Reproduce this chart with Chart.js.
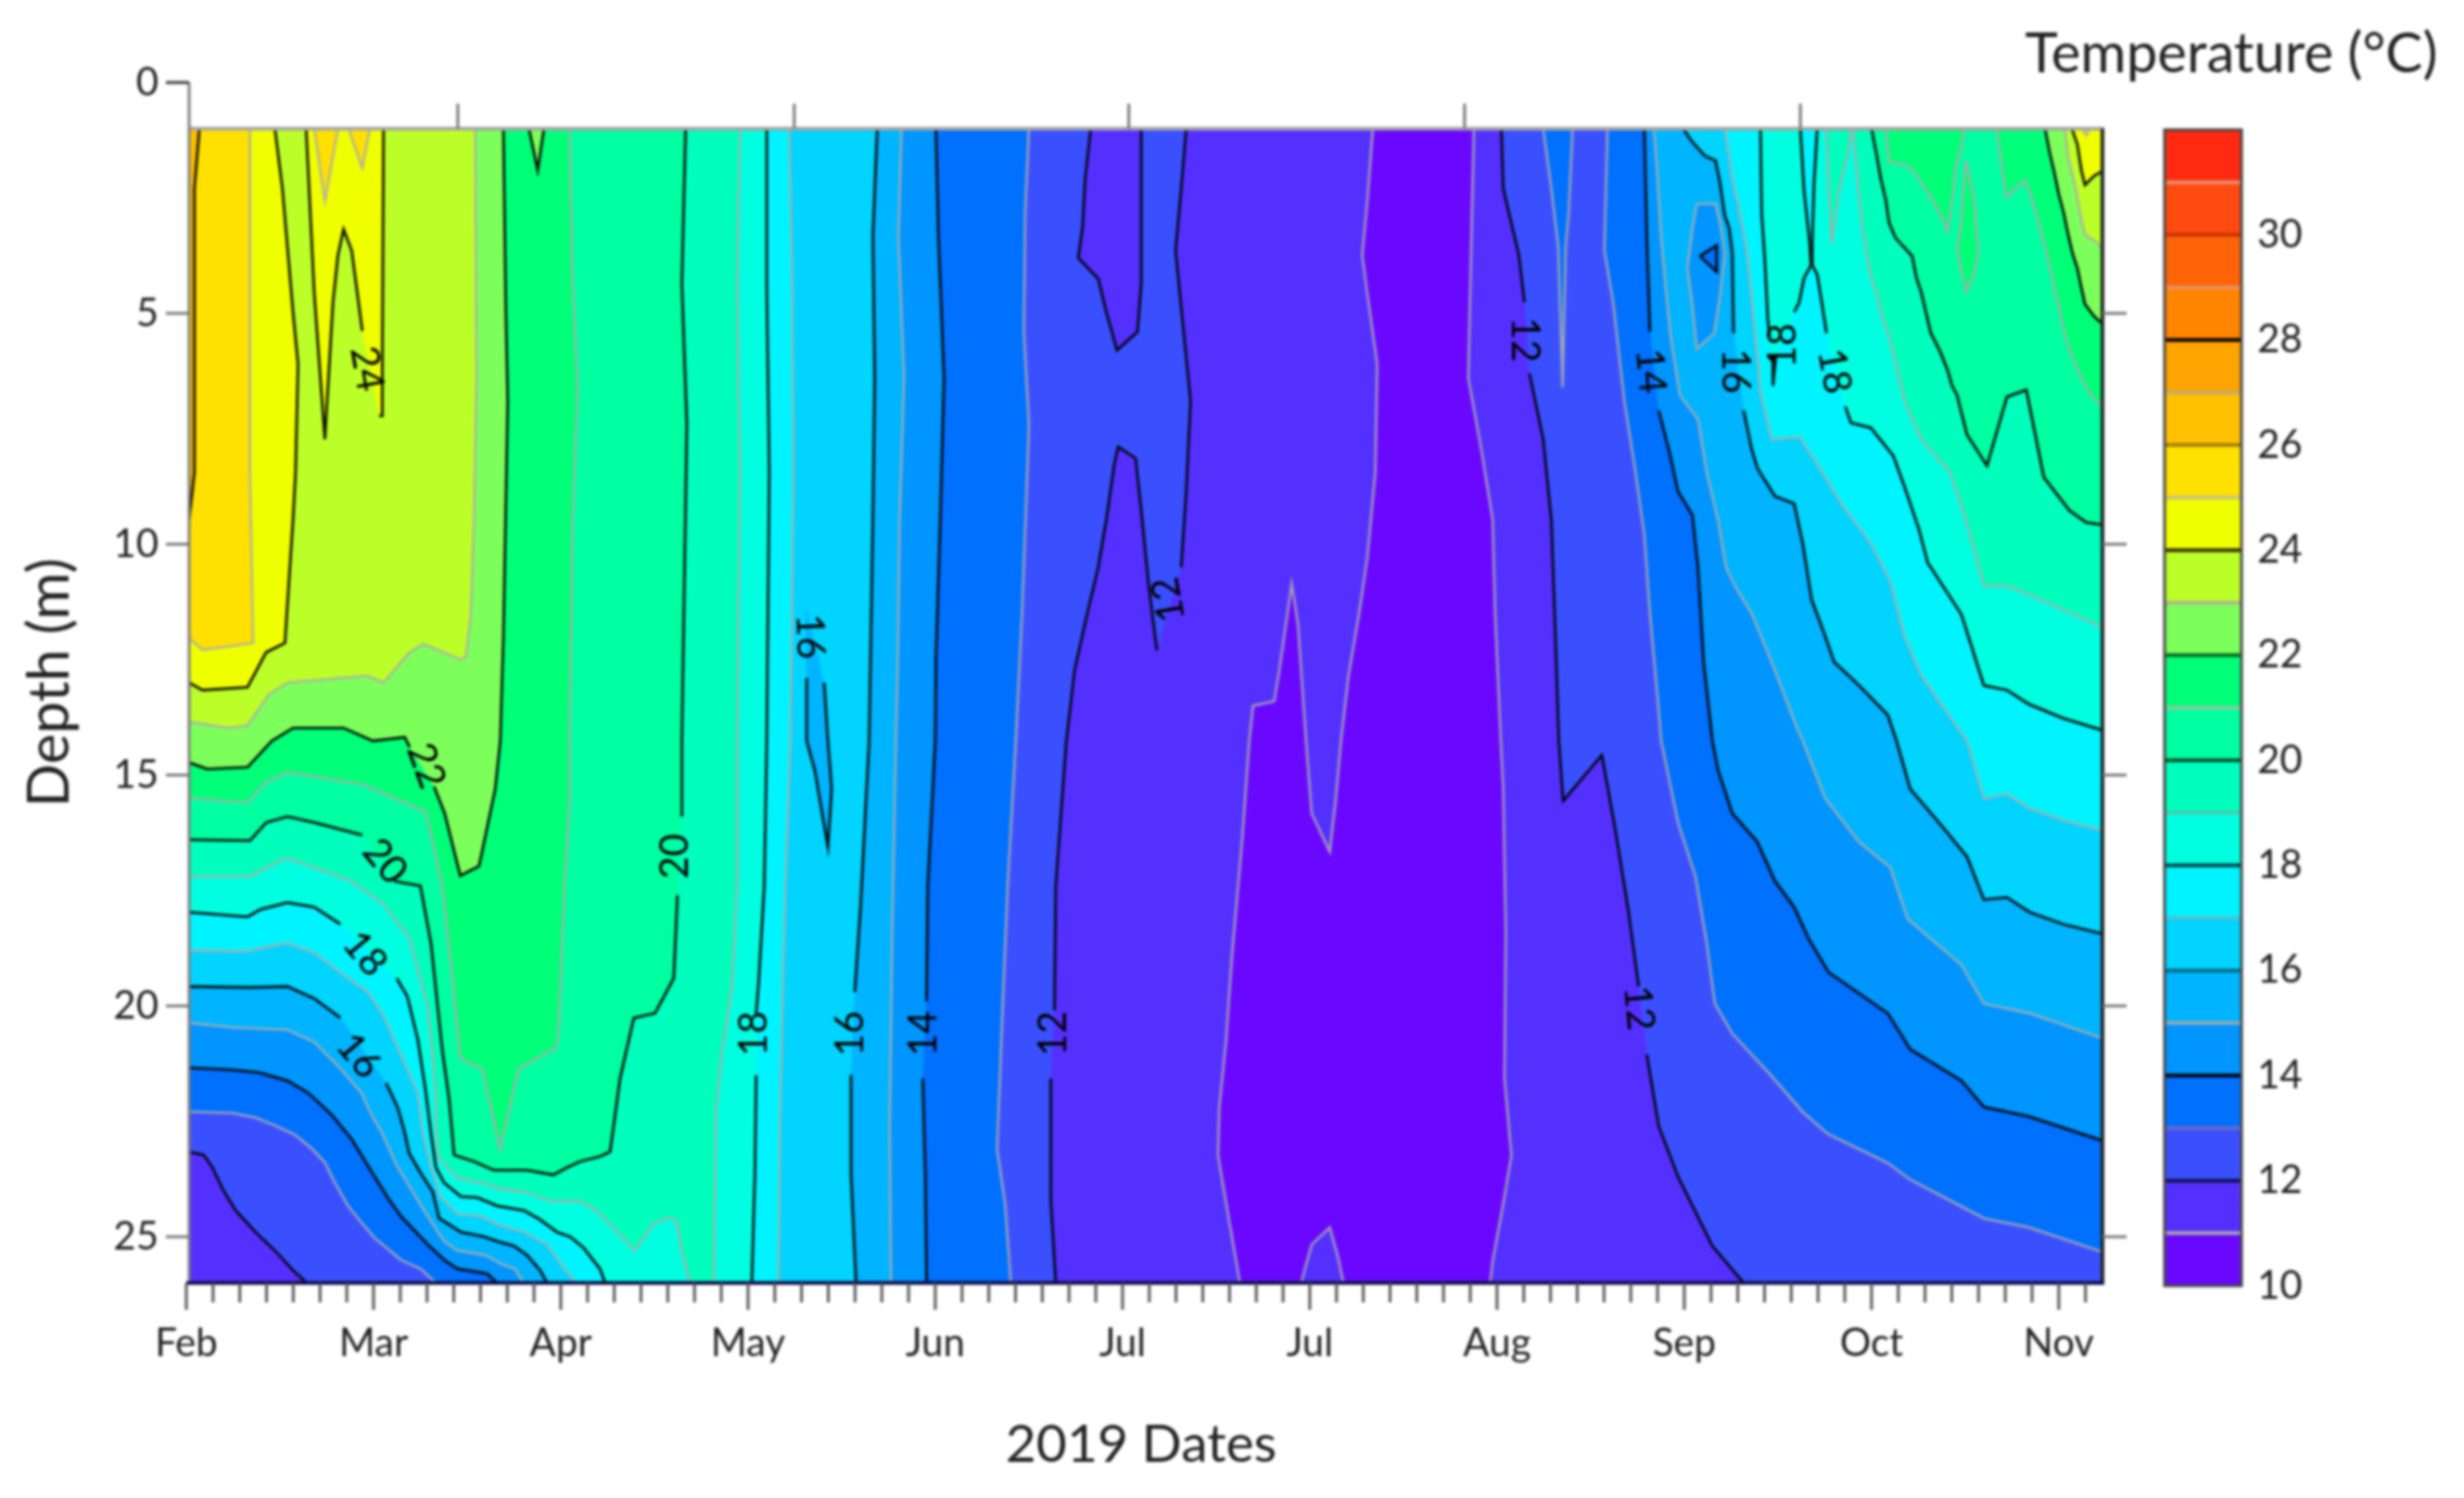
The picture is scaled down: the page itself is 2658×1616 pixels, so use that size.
<!DOCTYPE html>
<html><head><meta charset="utf-8">
<script src="https://cdn.jsdelivr.net/npm/chart.js@4"></script>
<style>
html,body{margin:0;padding:0;background:#fff;width:2658px;height:1616px;overflow:hidden}
canvas{position:absolute;top:0;filter:blur(1.4px)}
#main{left:0}#bar{left:2300px}
</style></head><body>
<canvas id="main" width="2658" height="1616" style="width:2658px;height:1616px"></canvas>
<canvas id="bar" width="358" height="1616" style="width:358px;height:1616px"></canvas>
<script>
// ---- axis data (x = days after 1 Feb 2019, y = depth in m)
const monthLabels=["Feb","Mar","Apr","May","Jun","Jul","Jul","Aug","Sep","Oct","Nov"];
const monthTicks=[0,30,60,90,120,150,180,210,240,270,300];
const topTicks=[43.5,97.4,151,204.8,258.6];
const depthTicks=[0,5,10,15,20,25];
const rightTicks=[5,10,15,20,25];
const legendTicks=[10,12,14,16,18,20,22,24,26,28,30];
const bandColors=["#6A08FF","#5430FF","#3A50FF","#0070FF","#0095FF","#00B4FF","#00D4FF","#00F4FF","#00FFE0","#00FFBC","#00FFA0","#00FF78","#7CFF5A","#BCFF28","#F0FF00","#FFE000","#FFC000","#FFA400","#FF8400","#FF6408","#FF4A10","#FF2A10"];
// ---- isotherms: [day, depth]; null = gap for a label
const c11L=[[190.1,1],[189.2,2.6],[188.4,3.74],[189.2,4.56],[190.8,6.1],[190.5,8.45],[189.2,10.3],[187.9,11.5],[186.2,12.85],[185,14.26],[184.1,15.6],[183.2,16.66],[180.3,15.83],[179.4,14.26],[178.1,11.73],[177.1,10.86],[175.1,12.75],[174.3,13.4],[170.9,13.5],[170.3,14.26],[169.2,16.35],[167.5,18.96],[166.6,20.73],[165.5,22.2],[165.3,23.24],[166.6,24.28],[168.8,26]];
const c11B=[[178.6,26],[180.3,25.17],[183.2,24.8],[184.5,25.43],[185.4,26]];
const c11R=[[206.3,1],[205.9,3.33],[205.4,6.4],[207.6,8.04],[209.3,9.47],[209.7,11.52],[210.6,14.26],[211,15.3],[211.4,18.4],[211.2,21.57],[212.3,23.24],[211,24.28],[209.3,25.53],[208.9,26]];
const c12L=[[160.2,1],[159.4,2.3],[158.5,3.64],[159.4,4.87],[160.9,6.9],[160.2,8.86],[159.4,10.5],null,[155.5,12.3],[154.2,10.9],[153,9.27],[152.1,8.14],[149.3,7.89],[148.7,8.25],[147.4,9.47],[146.1,10.5],[144,11.7],[142.3,12.75],[141,14.26],[139.3,17.4],[139.1,20.1],null,[138.5,21.57],[138.5,24.2],[139.3,26],[19.3,26],[16.9,25.7],[14.2,25.3],[11.1,24.9],[7.9,24.43],[5.8,23.96],[4.2,23.5],[2.8,23.23],[0.45,23.16]];
const c12Top=[[144.9,1],[144,2.1],[143.6,3.13],[142.9,3.8],[146.1,4.25],[147.4,4.97],[149.1,5.8],[152.4,5.4],[153,4.36],[153,1]];
const c12R=[[210.7,1],[211,2.3],[213.5,3.74],[214.4,4.76],null,[215.2,6.3],[217.4,7.73],[218.7,9.47],[219.5,12.55],[219.9,14.26],[220.6,15.56],[226.8,14.57],[228.9,16.14],[231,17.9],[232.7,19.58],null,[234,21.05],[235.9,22.6],[239,23.7],[244.5,25.2],[249.5,26]];
const c13L=[[135,1],[134.4,2.84],[134.2,5.4],[135,7.4],[134.6,8.96],[133.9,11.5],[132.9,14.26],[131.6,17.4],[130.8,20],[129.9,23.1],[131.2,24.3],[132.1,26],[40,26],[37.6,25.7],[34.4,25.5],[30.2,25.03],[28.1,24.7],[25.9,24.33],[23.8,23.83],[22.2,23.39],[20.1,23.09],[17.4,22.79],[14.2,22.59],[11.1,22.42],[7.4,22.32],[0.45,22.29]];
const c13Top=[[217.4,1],[218.7,2.3],[219.8,3.54],[220.5,6.6],[221,3.54],[221.5,2.8],[222.1,1]];
const c13R=[[227.7,1],[227.2,3.64],[228.6,4.76],[230.4,6.9],[232.2,8.45],[233.6,9.8],[234.5,11.5],[235.9,13.6],[236.3,14.26],[239,16.03],[241.8,17.2],[243.6,18.64],[244.9,19.95],[247.7,20.6],[253.6,21.46],[259,22.3],[263,22.77],[272.6,23.4],[276.2,23.76],[288,24.6],[295.3,24.8],[307,25.33]];
const c14L=[[120.1,1],[120.5,3.33],[121.4,6.4],[120.8,9.47],[120.1,12.5],[120,14.26],[118.8,17.4],[118.6,19.9],null,[118,21.57],[118.4,23.65],[118.6,26],[49.8,26],[48.2,25.8],[43.4,25.69],[41.3,25.5],[38.7,25.17],[34.4,24.56],[32.3,24.16],[29.4,23.53],[26.5,22.89],[23.3,22.36],[19.6,21.89],[16.2,21.62],[11.5,21.44],[6.8,21.38],[0.45,21.34]];
const c14R=[[233.6,1],[234,3.33],[234.5,5.4],null,[235.9,7.1],[237.7,8.05],[239,8.86],[241.3,9.37],[242.2,10.5],[243.1,12.55],[244.5,14.26],[245.4,14.89],[247.7,15.83],[251.7,16.45],[254.5,17.29],[257.6,17.86],[259.9,18.54],[263.1,19.27],[272.6,20.16],[276.2,20.94],[284.4,21.62],[288,22.19],[295.3,22.4],[307,22.92]];
const c14Tri=[[242.5,3.76],[245.2,3.53],[245.2,4.1],[242.5,3.76]];
const c15L=[[114.6,1],[114.1,3.33],[115,6.4],[114.3,9.47],[114,12.5],[113.7,14.26],[113.1,18.4],[112.7,22.6],[112.9,26],[54,26],[52.7,25.7],[50.6,25.6],[47.9,25.4],[43.4,25.3],[41.3,25.1],[38.7,24.56],[35.7,23.9],[33.6,23.43],[31.5,22.79],[29.4,22.29],[28.1,21.89],[24.7,21.36],[20.5,20.78],[16.2,20.52],[7.7,20.47],[0.45,20.37]];
const c15R=[[235.1,1],[235.6,1.82],[236.3,3.36],[237.1,4.56],[237.8,5.5],[238.6,6.17],[239.3,6.77],[242.2,7.3],[243.6,8.45],[245.4,9.47],[246.7,10.5],[248.1,10.9],[250.8,11.5],[254,12.55],[258.1,14],[259,14.26],[262.6,15.51],[268,16.45],[273,17],[275.8,18.12],[284.4,19.11],[288,19.95],[295.3,20.16],[307,20.7]];
const c15Oval=[[242,2.63],[241.3,3.16],[240.5,4.03],[241.3,4.83],[242,5.77],[244.8,5.43],[245.7,4.63],[246.5,3.7],[245.7,3.03],[245,2.63],[242,2.63]];
const c16L=[[110.7,1],[110,3.33],[110.3,6.4],[110,9.47],[109.4,14.26],[108.6,16.35],[108,17.9],[107.1,19.7],null,[106.5,21.5],[106.5,23.65],[107.3,26],[57.8,26],[56.7,25.73],[54.6,25.4],[52.5,25.2],[49.8,25.1],[47.7,25],[44,24.9],[42.4,24.76],[40.5,24.6],[39.5,24.03],[37.6,23.63],[35.7,23.19],[34.9,22.69],[33.9,22.22],[32.8,21.89],[32,21.67],null,[24.7,20.26],[20.5,19.84],[16.2,19.58],[10.2,19.6],[0.45,19.58]];
const c16Lens=[[99.2,11.33],null,[99.4,12.9],[99.4,14.26],[100.7,14.9],[102.8,16.56],[103.4,15.3],[102.8,14.26],[102.2,13],null,[99.2,11.33]];
const c16R=[[239.8,1],[241.3,1.29],[243.3,1.59],[245,1.69],[245.7,2.16],[246.5,2.89],[247.2,3.16],[247.7,3.7],[247.9,5.43],null,[249.5,7.1],[250.8,7.94],[251.7,8.35],[254.5,8.96],[257.6,9.12],[259,10],[260.4,11.2],[262.6,12],[264,12.55],[268,13.06],[272.6,13.7],[274,14.26],[276.2,15.3],[280.8,16.03],[285.3,16.77],[288,17.7],[291.7,17.65],[295.3,17.97],[300.7,18.23],[307,18.44]];
const c17L=[[96.6,1],[97.1,4.4],[97.3,8.45],[96.8,14.26],[96,17.4],[95.6,19.5],[95.1,22.6],[94.9,26],[62.5,26],[60.4,25.67],[57.8,25.17],[54.1,24.9],[49.8,24.73],[47.2,24.56],[43.5,24.51],[40.8,24.16],[39.2,23.5],[37.9,22.76],[37.1,21.89],[35,21.25],[31.6,20.21],[29,19.69],[25.6,19.37],[20.5,18.85],[16.2,18.64],[11.9,18.75],[9.8,18.82],[0.45,18.8]];
const c17R=[[246.5,1],[247.7,2.09],[248.7,2.69],[250,3.63],[250.7,4.56],[251.4,5.5],[252.2,6.7],[254,7.73],[258.5,7.68],[261.7,8.35],[265.4,9.17],[269.9,9.98],[273,10.8],[275.3,12],[278,12.85],[285.3,14.26],[288,15.51],[291.7,15.41],[295.3,15.72],[300.7,15.98],[307,16.2]];
const c18L=[[93,1],[93,4.4],[93.4,8.45],[93,14.26],[92.6,17.4],[91.7,19.5],[91.3,20.16],null,[91.3,21.5],[91.1,23.65],[90.6,26],[67.1,26],[66.3,25.7],[63.6,25.23],[61.5,25],[59.4,24.9],[56.7,24.63],[54.1,24.43],[49.8,24.33],[46.6,24.15],[44,24.13],[41.3,23.83],[40,23.5],[39.2,22.76],[38.4,21.89],[37.1,20.73],[35.4,19.79],[33.7,19.4],null,[24.7,18.23],[20.5,17.86],[16.2,17.76],[11.9,17.91],[9.8,18.07],[0.45,17.97]];
const c18Top=[[252.2,1],[252.4,2.83],[252.9,3.83],[253.4,5.17],[253.7,5.5],null,[254.2,5.9],[254.2,6.57],[254.7,5.9],null,[257.6,4.97],[258.4,4.77],[259.2,4.23],[260.3,3.96],[260.1,3.49],[259.2,2.36],[258.6,1]];
const c18R=[[261.3,1],[260.8,2.16],[260.5,3.49],[260.5,3.96],[261.3,4.16],[262.1,4.83],[262.8,5.43],null,[265.8,7.02],[266.7,7.37],[269.9,7.48],[273.5,8.09],[275.3,8.76],[277.6,9.68],[279,10.4],[284.4,11.52],[288,13.06],[291.7,13.16],[295.3,13.47],[300.7,13.77],[307,14.03]];
const c19L=[[88.7,1],[88.3,4.4],[88.7,8.45],[88.3,14.26],[88.3,17.2],[87.5,19.5],[85.8,21.05],[84.9,22.2],[84.5,26],[80.6,26],[80.1,25.7],[79.3,25.23],[78.5,24.63],[76.9,24.6],[74.8,24.73],[71.8,25.3],[70,25.03],[65.7,24.43],[63.1,24.23],[58.3,24.23],[57.2,24.16],[54.1,24.03],[49.8,23.95],[48.2,23.86],[43.5,23.73],[41.3,23.43],[40.3,23.26],[40,22.56],[40,21.89],[38.8,20.1],[37.5,19.4],[35.8,18.54],[31.6,17.8],[26.5,17.3],[20.5,17],[16.2,16.8],[12.8,17],[10.2,17.2],[0.45,17.2]];
const c19Top=[[262.8,1],[263.1,2.16],[263.6,3.49],[264.8,2.36],[266.3,1.49],[266.8,1]];
const c19R=[[267,1],[267.8,2.16],[268.5,3.16],[269.8,4.16],[270.8,4.56],[271.5,4.97],[273,5.6],[275.3,6.91],[278,7.73],[282.6,8.45],[284.4,9.17],[286.2,9.99],[288,10.9],[291.7,10.9],[297.1,11.2],[307,11.8]];
const c20L=[[80,1],[79.4,4.36],[80.2,7.4],[79.4,14.26],[79.4,15.9],null,[78.7,17.6],[78.1,19.4],[75.1,20.16],[71.7,20.26],[69.5,21.57],[67.9,23.16],[66.3,23.26],[63.1,23.37],[61,23.5],[58.8,23.66],[54.6,23.56],[49.3,23.56],[46.1,23.37],[42.9,23.23],[42.6,22.76],[42.1,22.02],[41,20.94],[39.2,18.64],[37.5,17.4],[33.3,17.3],null,[28.2,16.3],[20.5,16.03],[16.2,15.9],[12.8,16.03],[10.2,16.42],[0.45,16.4]];
const c20R=[[270,1],[270.8,1.56],[271.5,2.09],[272.3,2.56],[272.8,3.03],[273.8,3.36],[276.5,3.76],[277.2,4.23],[278,4.56],[278.7,4.97],[279.5,5.43],[281,5.83],[282.2,6.24],[282.9,6.57],[283.7,6.77],[285.3,7.63],[288.5,8.3],[291.7,6.81],[294.8,6.66],[297.6,8.55],[301.7,9.27],[304.4,9.53],[307,9.58]];
const c21L=[[61.4,1],[61.9,4.36],[62.7,6.6],[61.9,9.5],[61.4,14.26],[61.4,15.6],[60.6,17.4],[59.7,20.4],[59.3,20.9],[53.3,21.36],[52.5,21.8],[50.3,23.1],[47.4,21.36],[43.9,21.15],[42.7,19.5],[41,17.4],[38.4,15.8],[36.7,15.7],[28.2,15.2],[16.2,14.94],[12.8,15.15],[9.8,15.6],[0.45,15.5]];
const c21Top=[[272.3,1],[272.8,1.72],[275.7,1.79],[276.7,1.92],[278.7,2.32],[281,2.83],[282.2,3.23],[283,2.49],[283.4,1.89],[284.2,1.49],[284.9,1]];
const c21Mid=[[285.1,1.69],[284.3,3.09],[283.7,3.63],[284.4,4.1],[285.2,4.53],[286.4,4.16],[287.1,3.7],[286.4,2.49],[285.1,1.69]];
const c21R=[[290.1,1],[290.7,1.69],[291.6,2.49],[293.3,2.26],[294.6,2.12],[295.6,2.49],[296.6,2.96],[297.8,3.56],[298.5,3.96],[299.5,4.56],[300.8,5.37],[302,5.9],[303.5,6.37],[305,6.74],[307,7.05]];
const c22L=[[50.8,1],[51.2,4.97],[51.5,6.9],[50.8,12.03],[50.3,14.26],[49.5,15.3],[46.9,16.97],[43.9,17.18],[41.4,15.83],[39.7,15.25],null,[35.8,14.4],[35,14.18],[29.9,14.26],[25.2,13.98],[17.1,13.98],[13.7,14.26],[9.8,14.83],[3.4,14.87],[0.45,14.73]];
const c22Top=[[54.9,1],[56.3,1.9],[57.3,1]];
const c22R=[[297.8,1],[298.5,1.49],[299.3,1.96],[300,2.42],[300.8,2.83],[301.5,3.29],[302.2,3.7],[303,4.03],[303.6,4.43],[304.2,4.8],[305.7,5.07],[307,5.23]];
const c23L=[[46.3,1],[46.5,6.4],[46.1,9.47],[45.6,11.52],[44.8,12.44],[43.9,12.5],[38,12.16],[35.8,12.34],[31.6,13],[29,12.85],[24.7,12.9],[16.2,13],[13.2,13.26],[9.8,13.93],[6.8,13.98],[0.45,13.85]];
const c23R=[[301,1],[301.5,1.62],[302.7,2.29],[303.6,2.96],[304.2,3.29],[306,3.46],[307,3.6]];
const c24L=[[14.2,1],[15.4,2.3],[17.1,4.97],[17.9,6.1],[17.5,8.45],[17.1,9.47],[15.8,12.14],[12.8,12.34],[9.8,13.1],[2.6,13.16],[0.45,13]];
const c24Top=[[19.2,1],[20.5,4.56],[22.2,7.73],[23.5,4.76],[24.3,3.74],[25.2,3.18],[26.5,3.64],[28.2,5.38],null,[30.9,7.22],[31.4,7.22],[31.4,6.4],[31.6,1]];
const c24R=[[302.1,1],[303,1.35],[303.6,1.89],[304.2,2.22],[305.7,2.02],[307,1.92]];
const c25L=[[10.2,1],[10.2,8.45],[10.7,12.14],[2.6,12.29],[0.45,12.03]];
const c25TopA=[[20.5,1],[22.2,2.57],[24.3,1]];
const c25TopB=[[26,1],[28.2,1.85],[29.4,1]];
const c25R=[[303.7,1],[304.4,1.15],[305,1]];
const c26L=[[2.1,1],[1.3,2.3],[1.3,8.45],[0.45,9.47]];
// ---- contour labels
const labelText=["24","22","20","18","16","20","18","16","14","12","16","12","12","14","16","18","18","12"];
const labelDay=[28.9,38.4,31.8,28.6,27.6,78.4,91,106.4,118.2,138.9,99.9,157.4,214.4,234.6,248.1,255.8,264,232.7];
const labelDepth=[6.2,14.8,16.87,18.87,21.08,16.76,20.6,20.6,20.6,20.6,12,11.2,5.57,6.25,6.25,5.7,6.25,20.05];
const labelAngle=[80,70,50,50,50,-90,-90,-90,-90,-90,88,-100,90,85,90,-90,80,85];

// ---- layers: level, outline, extra closing corners, band colour index
const TL=[0.45,1],BL=[0.45,26],TR=[307,1],BR=[307,26];
const layers=[
 [11,c11L,[BL,TL]],[11,c11B,[]],[11,c11R,[BR,TR]],
 [12,c12L,[TL]],[12,c12R,[BR,TR]],[12,c12Top,[],11],
 [13,c13L,[TL]],[13,c13Top,[]],[13,c13R,[TR]],
 [14,c14L,[TL]],[14,c14R,[TR]],
 [15,c15L,[TL]],[15,c15R,[TR]],[15,c15Oval,[],14],[14,c14Tri,[],13],
 [16,c16L,[TL]],[16,c16R,[TR]],[16,c16Lens,[],15],
 [17,c17L,[TL]],[17,c17R,[TR]],
 [18,c18L,[TL]],[18,c18Top,[]],[18,c18R,[TR]],
 [19,c19L,[TL]],[19,c19Top,[]],[19,c19R,[TR]],
 [20,c20L,[TL]],[20,c20R,[TR]],
 [21,c21L,[TL]],[21,c21Top,[]],[21,c21Mid,[]],[21,c21R,[TR]],
 [22,c22L,[TL]],[22,c22Top,[]],[22,c22R,[TR]],
 [23,c23L,[TL]],[23,c23R,[TR]],
 [24,c24L,[TL]],[24,c24Top,[]],[24,c24R,[TR]],
 [25,c25L,[TL]],[25,c25TopA,[]],[25,c25TopB,[]],[25,c25R,[]],
 [26,c26L,[TL]]
];
const xy=p=>p?{x:p[0],y:p[1]}:{x:NaN,y:NaN};
const sets=[{data:[TL,TR,BR,BL].map(xy),showLine:true,fill:'shape',backgroundColor:bandColors[0],borderWidth:0,pointRadius:0}];
for(const [lvl,pts,close,band] of layers){
  sets.push({data:pts.filter(Boolean).concat(close).map(xy),showLine:true,fill:'shape',
    backgroundColor:bandColors[(band===undefined?lvl:band)-10],borderWidth:0,pointRadius:0});
}
for(const [lvl,pts] of layers){
  sets.push({data:pts.map(xy),showLine:true,fill:false,spanGaps:false,borderColor:lvl%2?'rgba(172,172,172,0.9)':'rgba(0,0,0,0.95)',borderWidth:lvl%2?2.6:2.8,pointRadius:0,tension:0});
}
sets.reverse();

const frame={id:'frame',afterDatasetsDraw(c){
  const g=c.ctx,X=c.scales.x,Y=c.scales.y;
  const px=v=>X.getPixelForValue(v),py=v=>Y.getPixelForValue(v);
  const L=(a,b,e,f,col,w)=>{g.strokeStyle=col;g.lineWidth=w;g.beginPath();g.moveTo(a,b);g.lineTo(e,f);g.stroke();};
  g.save();
  // contour labels
  g.fillStyle='#000';g.font='42px Lato';g.textAlign='center';g.textBaseline='middle';
  labelText.forEach((t,i)=>{g.save();g.translate(px(labelDay[i]),py(labelDepth[i]));g.rotate(labelAngle[i]*Math.PI/180);g.fillText(t,0,0);g.restore();});
  // frame
  const l=px(0.45),r=px(307),b=py(26),t=py(1),t0=py(0);
  L(l,t,r+2,t,'#a6a6a6',4);
  L(l,t0,l,b,'#7d7d7d',3);
  L(r,t,r,b,'#222',4);
  L(px(0),b,r+2,b,'#10104a',4);
  // ticks
  depthTicks.forEach(v=>L(l-25,py(v),l,py(v),v===0?'#333':'#777',3));
  rightTicks.forEach(v=>L(r,py(v),r+26,py(v),'#777',3));
  topTicks.forEach(v=>L(px(v),t-27,px(v),t,'#777',3));
  monthTicks.forEach((m,i)=>{
    L(px(m),b,px(m),b+29,'#555',3);
    for(let k=1;k<7;k++){const d=m+k*30/7; if(d<307) L(px(d),b,px(d),b+21,'#555',3);}
  });
  // captions
  g.fillStyle='#222';g.textAlign='center';g.textBaseline='middle';
  g.font='60px Lato';g.fillText('Temperature (°C)',2407,59);
  g.font='57px Lato';g.fillText('2019 Dates',1231,1559);
  g.restore();
}};

new Chart(document.getElementById('main'),{type:'scatter',data:{datasets:sets},plugins:[frame],
 options:{responsive:false,animation:false,events:[],devicePixelRatio:1,
  layout:{autoPadding:false,padding:{top:89,right:390,left:0,bottom:0}},
  plugins:{legend:{display:false},tooltip:{enabled:false}},
  scales:{
   x:{type:'linear',min:0.45,max:307,grid:{display:false},border:{display:false},
      afterBuildTicks:s=>{s.ticks=monthTicks.map(v=>({value:v}));},
      afterFit:s=>{s.height=232;},
      ticks:{autoSkip:false,maxRotation:0,minRotation:0,padding:32,color:'#222',font:{family:'Lato',size:42},
             callback:(v)=>monthLabels[monthTicks.indexOf(v)]}},
   y:{type:'linear',reverse:true,min:0,max:26,grid:{display:false},border:{display:false},
      afterBuildTicks:s=>{s.ticks=depthTicks.map(v=>({value:v}));},
      afterFit:s=>{s.width=204;},
      ticks:{autoSkip:false,padding:25,color:'#222',font:{family:'Lato',size:42}},
      title:{display:true,text:'Depth (m)',color:'#222',font:{family:'Lato',size:62},padding:{top:17,bottom:0}}}
  }}});

// ---- colour scale
const legendLevels=bandColors.map((c,i)=>10+i);
const legendEdgeColors={11:'#a9a9a9',12:'#101050',13:'#6a6ac8',14:'#000',15:'#9aa',16:'#006a80',17:'#50c0d0',18:'#004040',19:'#50c8b0',20:'#004a30',21:'#90c8a0',22:'#006a20',23:'#b0b090',24:'#302a00',25:'#c8c080',26:'#a08000',27:'#c8a870',28:'#000',29:'#e89060',30:'#c83000',31:'#e89070'};
const legendEdges={id:'edges',afterDatasetsDraw(c){
  const g=c.ctx,Y=c.scales.y,A=c.chartArea;
  g.save();
  legendLevels.slice(1).forEach(v=>{g.strokeStyle=legendEdgeColors[v];g.lineWidth=4;g.beginPath();g.moveTo(A.left,Y.getPixelForValue(v-10));g.lineTo(A.right,Y.getPixelForValue(v-10));g.stroke();});
  g.strokeStyle='#444';g.lineWidth=3;g.strokeRect(A.left,A.top,A.right-A.left,A.bottom-A.top);
  g.restore();
}};
new Chart(document.getElementById('bar'),{type:'bar',
 data:{labels:['T'],datasets:legendLevels.map((v,i)=>({data:[1],backgroundColor:bandColors[i],barPercentage:1,categoryPercentage:1,borderWidth:0}))},
 plugins:[legendEdges],
 options:{responsive:false,animation:false,events:[],devicePixelRatio:1,
  layout:{autoPadding:false,padding:{top:140,bottom:229,left:35,right:0}},
  plugins:{legend:{display:false},tooltip:{enabled:false}},
  scales:{
   x:{stacked:true,display:false},
   y:{stacked:true,position:'right',min:0,max:22,grid:{display:false},border:{display:false},
      afterFit:s=>{s.width=240;},
      afterBuildTicks:s=>{s.ticks=legendTicks.map(v=>({value:v-10}));},
      ticks:{autoSkip:false,padding:9,color:'#222',font:{family:'Lato',size:42},callback:v=>v+10}}
  }}});
</script>
</body></html>
